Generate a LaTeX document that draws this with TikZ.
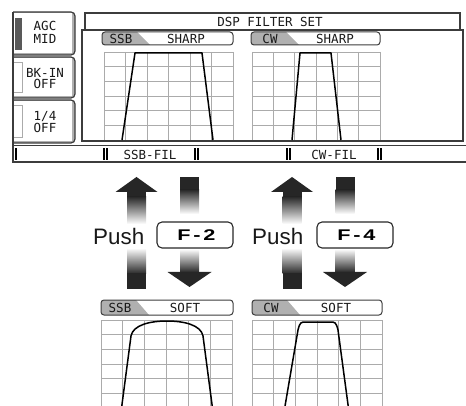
\documentclass[tikz,border=0pt]{standalone}
\usepackage{fontspec}
\setmainfont{Liberation Sans}
\newfontfamily\lcdfont{DejaVu Sans Mono}
\newfontfamily\keyfont[FakeStretch=1.4, LetterSpace=18]{Liberation Sans}
\usepackage{xcolor}
\usepackage{tikz}

\definecolor{lcdline}{HTML}{3C3C3C}
\definecolor{lcdgrid}{HTML}{ABABAB}
\definecolor{tabgray}{HTML}{B0B0B0}
\definecolor{arrowdark}{HTML}{262626}

\begin{document}
\begin{tikzpicture}[x=1pt, y=-1pt,
  lcd/.style={font=\lcdfont\fontsize{12.5}{13}\selectfont, inner sep=0pt, text=black!90},
  frame/.style={draw=lcdline, line width=1.2pt},
  gridline/.style={draw=lcdgrid, line width=0.8pt},
  response/.style={draw=black, line width=1.5pt, line join=round},
  push/.style={font=\fontsize{22.4}{24}\selectfont, inner sep=0pt, anchor=base west, text=black!90},
  key/.style={draw=black!85, line width=1.1pt, rounded corners=5pt, minimum width=76pt, minimum height=26pt, font=\keyfont\bfseries\fontsize{15.5}{16}\selectfont, inner sep=0pt}
]
  \useasboundingbox (0,0) rectangle (466,406);
  \clip (0,0) rectangle (466,406);

  % Left: soft-key tabs
  \foreach \ya/\yb in {12/55, 57/98, 100/143} {
    \filldraw[frame, fill=tabgray, rounded corners=4pt] (13,\ya) -- (75,\ya) -- (75,\yb) -- (13,\yb);
    \fill[white] (14,\ya+1) rectangle (72,\yb-1.5);
  }
  \fill[lcdline!85] (15,18) rectangle (22,50);
  \draw[lcdgrid, fill=white] (13,62) rectangle (22,92);
  \draw[lcdgrid, fill=white] (13,105) rectangle (22,137);
  \draw[frame] (13,12) -- (13,163);

  \node[lcd] (agc) at (45,26) {AGC};
  \node[lcd] (agcval) at (45,39) {MID};
  \node[lcd] (bkin) at (45,73) {BK-IN};
  \node[lcd] (bkinval) at (45,84) {OFF};
  \node[lcd] (quarter) at (45,117) {1/4};
  \node[lcd] (quarterval) at (45,128) {OFF};

  % Top: filter set panel
  \draw[frame] (85,30) -- (85,13) -- (460,13) -- (460,30);
  \node[lcd] (title) at (270,21.5) {DSP FILTER SET};

  \foreach \L/\R in {104/233, 252/380} {
    \foreach \i in {0,...,6} {
      \draw[gridline] ({\L+\i*(\R-\L)/6},52) -- ({\L+\i*(\R-\L)/6},140);
      \draw[gridline] (\L,{52+\i*88/6}) -- (\R,{52+\i*88/6});
    }
  }
  \draw[frame] (82,30) rectangle (463,141);

  % Bottom: soft filter grids
  \foreach \L/\R in {101/232, 252/382} {
    \foreach \i in {0,...,6} {
      \draw[gridline] ({\L+\i*(\R-\L)/6},320) -- ({\L+\i*(\R-\L)/6},406);
      \draw[gridline] (\L,{320+\i*14.7}) -- (\R,{320+\i*14.7});
    }
  }

  % Mode tabs above each grid
  \foreach \L/\R/\T/\H/\nm/\md in {102/233/32/13/SSB/SHARP, 251/380/32/13/CW/SHARP, 101/233/300/15/SSB/SOFT, 252/382/300/15/CW/SOFT} {
    \begin{scope}
      \clip[rounded corners=3pt] (\L,\T) rectangle (\R,\T+\H);
      \fill[tabgray] (\L,\T) -- (\L+35,\T) -- (\L+48,\T+\H) -- (\L,\T+\H) -- cycle;
    \end{scope}
    \draw[frame, line width=1pt, rounded corners=3pt] (\L,\T) rectangle (\R,\T+\H);
    \node[lcd] (tab\nm\md) at (\L+19,\T+\H/2) {\nm};
    \node[lcd] (mode\nm\md) at (\L+84,\T+\H/2) {\md};
  }

  % Filter responses
  \draw[response] (122,140) -- (135,53) -- (202,53) -- (213,140);
  \draw[response] (292,140) -- (300,53) -- (331,53) -- (341,140);
  \draw[response] (121,412) -- (131,336) .. controls (133,325) and (150,321) .. (167,321)
    .. controls (184,321) and (201,325) .. (203,336) -- (213,412);
  \draw[response] (284,412) -- (298,330) .. controls (300,322) and (301,322) .. (306,322)
    -- (330,322) .. controls (335,322) and (336,322) .. (338,330) -- (349,412);

  % Function bar
  \draw[lcdline, line width=1pt] (13,146) -- (466,146);
  \draw[lcdline, line width=2pt] (13,162.5) -- (466,162.5);
  \foreach \x in {16, 104, 107, 195, 198, 287, 290, 378, 381}
    \draw[black, line width=2pt] (\x,148.5) -- (\x,160.5);
  \node[lcd] (ssbfil) at (150,155) {SSB-FIL};
  \node[lcd] (cwfil) at (334,155) {CW-FIL};

  % Arrows: up = sharp, down = soft
  \foreach \u/\d in {136.5/189.5, 292/345} {
    \fill[arrowdark] (\u,177) -- (\u+21,192) -- (\u-21,192) -- cycle;
    \fill[arrowdark] (\u-9.5,191.5) rectangle (\u+9.5,197);
    \shade[top color=arrowdark, bottom color=white] (\u-9.5,196.5) rectangle (\u+9.5,224);
    \shade[top color=white, bottom color=arrowdark] (\u-9.5,248) rectangle (\u+9.5,274);
    \fill[arrowdark] (\u-9.5,273.5) rectangle (\u+9.5,289);

    \fill[arrowdark] (\d-9.5,177) rectangle (\d+9.5,190);
    \shade[top color=arrowdark, bottom color=white] (\d-9.5,189.5) rectangle (\d+9.5,214);
    \shade[top color=white, bottom color=arrowdark] (\d-9.5,249) rectangle (\d+9.5,272.5);
    \fill[arrowdark] (\d-22,272) -- (\d+22,272) -- (\d,287) -- cycle;
  }

  % Push labels and keys
  \node[push] (push1) at (93,244) {Push};
  \node[key] (f2) at (195,235) {\kern2.8pt F-2};
  \node[push] (push2) at (252,244) {Push};
  \node[key] (f4) at (355,235) {\kern2.8pt F-4};
\end{tikzpicture}
\end{document}
